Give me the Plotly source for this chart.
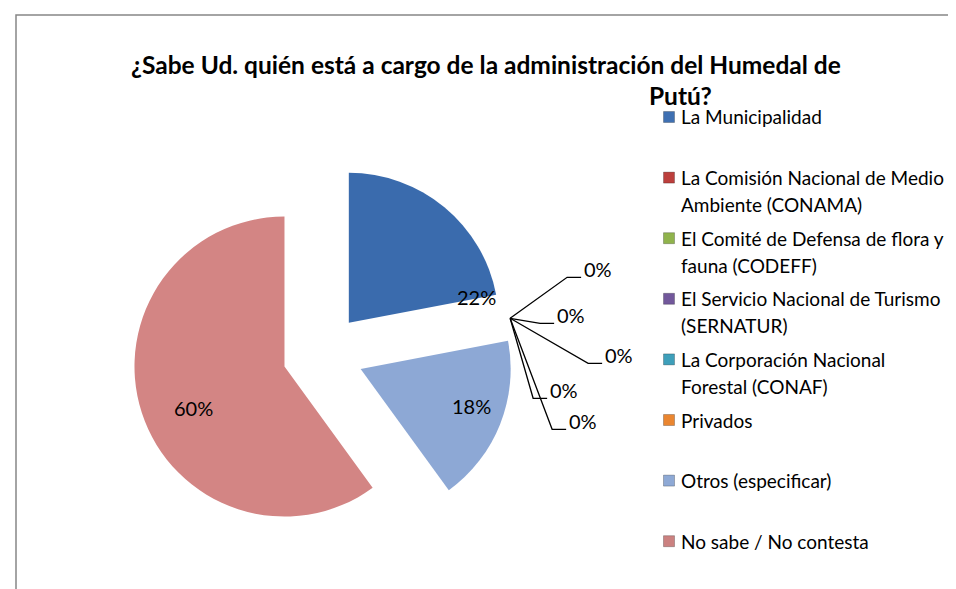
import math
import plotly.graph_objects as go

# ---------------- data ----------------
categories = [
    "La Municipalidad",
    "La Comisión Nacional de Medio Ambiente (CONAMA)",
    "El Comité de Defensa de flora y fauna (CODEFF)",
    "El Servicio Nacional de Turismo (SERNATUR)",
    "La Corporación Nacional Forestal (CONAF)",
    "Privados",
    "Otros (especificar)",
    "No sabe / No contesta",
]
legend_text = [
    "La Municipalidad",
    "La Comisión Nacional de Medio<br>Ambiente (CONAMA)",
    "El Comité de Defensa de flora y<br>fauna (CODEFF)",
    "El Servicio Nacional de Turismo<br>(SERNATUR)",
    "La Corporación Nacional<br>Forestal (CONAF)",
    "Privados",
    "Otros (especificar)",
    "No sabe / No contesta",
]
values = [22, 0, 0, 0, 0, 0, 18, 60]
title_line1 = "¿Sabe Ud. quién está a cargo de la administración del Humedal de"
title_line2 = "Putú?"

# ---------------- style ----------------
slice_colors = ["#3A6BAD", "#B83D3A", "#8DB04A", "#6F5597", "#3A9BB5",
                "#E5832E", "#8DA8D5", "#D38584"]
legend_colors = ["#3F70B2", "#BC3F3C", "#90B34C", "#72589B", "#3E9FBA",
                 "#EA8630", "#8EA9D5", "#CB8180"]
FONT = "Lato"
W, H = 956, 589
CX, CY, R, PULL = 315, 346, 150, 0.27
LABEL_POS = {0: (0.99, 0.87), 6: (0.45, 0.78), 7: (0.47, 0.67)}
ZERO_ELBOWS = [(57, -41), (30, 5), (78, 45), (23, 80), (42, 111)]
SEG = 14
LEG_SQ_X, LEG_TXT_X, LEG_Y0, LEG_STEP, LEG_LINE, LEG_FS = 661, 671, 109, 60.6, 27, 19
TITLE_FS = 24.5


def px(x):
    return x / W


def py(y):
    return 1 - y / H


def direc(deg):
    a = math.radians(deg)
    return math.sin(a), -math.cos(a)


total = sum(values)
ext = R * (1 + PULL)

fig = go.Figure()
fig.add_trace(go.Pie(
    labels=categories,
    values=values,
    sort=False,
    direction="clockwise",
    rotation=0,
    pull=PULL,
    marker=dict(colors=slice_colors, line=dict(width=0)),
    textinfo="none",
    hoverinfo="label+percent",
    showlegend=False,
    domain=dict(x=[px(CX - ext), px(CX + ext)], y=[py(CY + ext), py(CY - ext)]),
))

annotations = []
shapes = []

# data labels
cum = 0.0
zero_idx = []
zero_angle = None
for i, v in enumerate(values):
    a0 = cum / total * 360
    a1 = (cum + v) / total * 360
    pct = f"{round(v / total * 100)}%"
    if v > 0:
        mid = (a0 + a1) / 2
        dx, dy = direc(mid)
        ax, ay = CX + PULL * R * dx, CY + PULL * R * dy
        fa, fr = LABEL_POS.get(i, (0.5, 0.65))
        la = a0 + fa * (a1 - a0)
        lx, ly = direc(la)
        annotations.append(dict(
            x=px(ax + fr * R * lx), y=py(ay + fr * R * ly),
            xref="paper", yref="paper", text=pct, showarrow=False,
            font=dict(family=FONT, size=20, color="black"),
            xanchor="center", yanchor="middle"))
    else:
        zero_idx.append((i, pct))
        zero_angle = a0
    cum += v

# zero-value labels with leader lines
if zero_idx:
    dx, dy = direc(zero_angle)
    Px, Py = CX + ext * dx, CY + ext * dy
    for (i, pct), (ox, oy) in zip(zero_idx, ZERO_ELBOWS):
        ex, ey = Px + ox, Py + oy
        shapes.append(dict(
            type="path", xref="paper", yref="paper",
            path=f"M {px(Px)},{py(Py)} L {px(ex)},{py(ey)} L {px(ex + SEG)},{py(ey)}",
            line=dict(color="black", width=1.3)))
        annotations.append(dict(
            x=px(ex + SEG + 1), y=py(ey - 8), xref="paper", yref="paper",
            text=pct, showarrow=False, xanchor="left", yanchor="middle",
            font=dict(family=FONT, size=20, color="black")))

# legend (manual, evenly spaced like the original)
for i, (t, c) in enumerate(zip(legend_text, legend_colors)):
    y0 = LEG_Y0 + i * LEG_STEP
    shapes.append(dict(type="rect", xref="paper", yref="paper",
                       x0=px(LEG_SQ_X - 5.5), x1=px(LEG_SQ_X + 5.5),
                       y0=py(y0 + 5.5), y1=py(y0 - 5.5),
                       fillcolor=c, line=dict(color="rgba(0,0,0,0.3)", width=0.8)))
    for k, line in enumerate(t.split("<br>")):
        annotations.append(dict(
            x=px(LEG_TXT_X), y=py(y0 + k * LEG_LINE), xref="paper", yref="paper",
            text=line, showarrow=False, xanchor="left", yanchor="middle",
            font=dict(family=FONT, size=LEG_FS, color="black")))

# title
annotations.append(dict(x=px(478), y=py(56), xref="paper", yref="paper",
                        text=f"<b>{title_line1}</b>", showarrow=False,
                        xanchor="center", yanchor="middle",
                        font=dict(family=FONT, size=TITLE_FS, color="black")))
annotations.append(dict(x=px(672), y=py(88), xref="paper", yref="paper",
                        text=f"<b>{title_line2}</b>", showarrow=False,
                        xanchor="center", yanchor="middle",
                        font=dict(family=FONT, size=TITLE_FS, color="black")))

# chart border
shapes.append(dict(type="rect", xref="paper", yref="paper",
                   x0=px(8), x1=px(W + 5), y0=py(H + 5), y1=py(7),
                   line=dict(color="#868686", width=1.5)))

fig.update_layout(
    width=W, height=H,
    margin=dict(l=0, r=0, t=0, b=0),
    paper_bgcolor="white", plot_bgcolor="white",
    annotations=annotations, shapes=shapes,
    font=dict(family=FONT),
)
fig.write_html("out.html")
